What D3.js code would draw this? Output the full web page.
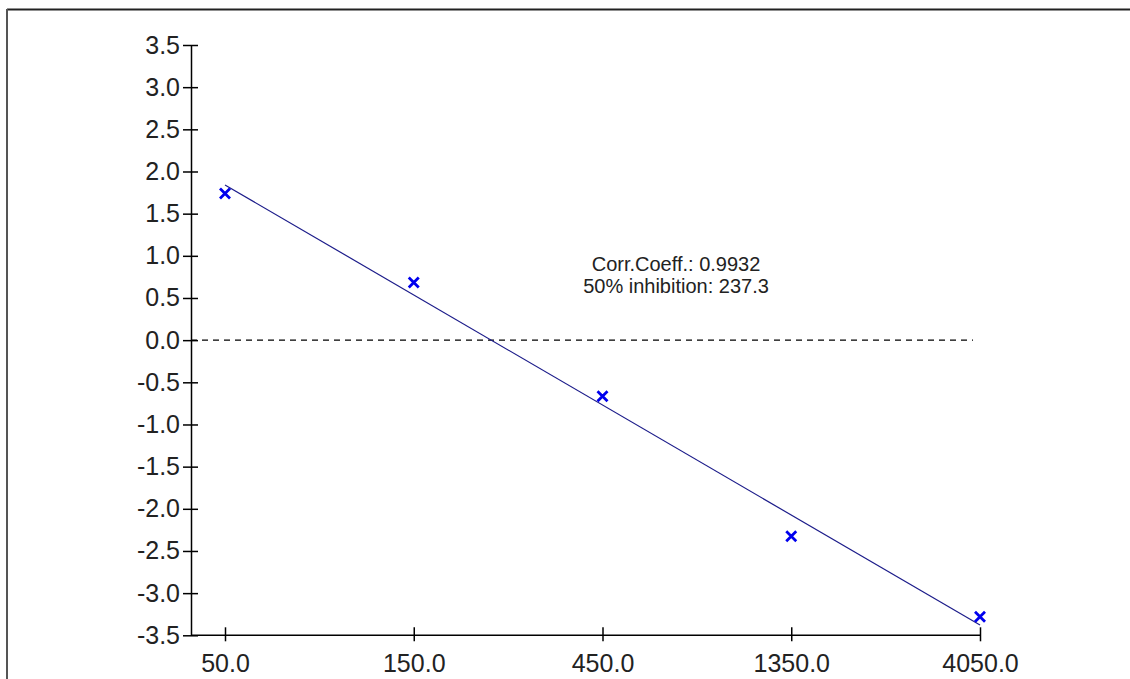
<!DOCTYPE html>
<html>
<head>
<meta charset="utf-8">
<script src="https://cdn.jsdelivr.net/npm/d3@7"></script>
<style>
  html, body { margin: 0; padding: 0; background: #fff; }
  svg { display: block; }
  text { font-family: "Liberation Sans", Arial, sans-serif; }
</style>
</head>
<body>
<svg id="chart" width="1130" height="679"></svg>
<script>
// concentrations (x, log scale) and measured response (y)
const concentrations = [50, 150, 450, 1350, 4050];
const responses = [1.74, 0.684, -0.664, -2.325, -3.28];
const yTicks = [-3.5, -3.0, -2.5, -2.0, -1.5, -1.0, -0.5, 0, 0.5, 1.0, 1.5, 2.0, 2.5, 3.0, 3.5];
const notes = ["Corr.Coeff.: 0.9932", "50% inhibition: 237.3"];

const svg = d3.select("#chart");

// frame round the plot window
svg.append("line").attr("x1", 7).attr("x2", 1130).attr("y1", 9.5).attr("y2", 9.5)
  .attr("stroke", "#222").attr("stroke-width", 2);
svg.append("line").attr("x1", 7).attr("x2", 7).attr("y1", 9).attr("y2", 679)
  .attr("stroke", "#555").attr("stroke-width", 2);

const x = d3.scaleLog().domain([50, 4050]).range([225, 980]);
const y = d3.scaleLinear().domain([-3.5, 3.5]).range([635.3, 45]);
const axisX0 = 191;

// y axis
const gy = svg.append("g")
  .attr("transform", `translate(${axisX0},0)`)
  .call(d3.axisLeft(y).tickValues(yTicks).tickSize(8).tickSizeOuter(0).tickPadding(3)
    .tickFormat((d) => d.toFixed(1)));
gy.select(".domain").attr("stroke", "#000").attr("stroke-width", 1.5);
gy.selectAll(".tick line").attr("x1", 7).attr("stroke", "#000").attr("stroke-width", 1.5);
gy.selectAll(".tick text").attr("font-size", 25).attr("fill", "#222")
  .attr("font-family", "Liberation Sans, Arial, sans-serif");

// x axis
const gx = svg.append("g")
  .attr("transform", `translate(0,${y(-3.5)})`)
  .call(d3.axisBottom(x).tickValues(concentrations).tickSize(6).tickPadding(13)
    .tickFormat((d) => d.toFixed(1)));
gx.select(".domain").remove();
gx.append("line").attr("x1", axisX0).attr("x2", x(4050)).attr("y1", 0).attr("y2", 0)
  .attr("stroke", "#000").attr("stroke-width", 1.5);
gx.selectAll(".tick line").attr("y1", -8).attr("stroke", "#000").attr("stroke-width", 1.5);
gx.selectAll(".tick text").attr("font-size", 25).attr("fill", "#222")
  .attr("font-family", "Liberation Sans, Arial, sans-serif");

// zero line
svg.append("line")
  .attr("x1", axisX0).attr("x2", x(4050) - 7)
  .attr("y1", y(0)).attr("y2", y(0))
  .attr("stroke", "#000").attr("stroke-width", 1.3)
  .attr("stroke-dasharray", "6,5");

// least squares fit in log space
const lx = concentrations.map((c) => Math.log(c));
const mx = d3.mean(lx), my = d3.mean(responses);
const slope = d3.sum(lx, (v, i) => (v - mx) * (responses[i] - my)) / d3.sum(lx, (v) => (v - mx) ** 2);
const icpt = my - slope * mx;
const fit = (c) => icpt + slope * Math.log(c);
const ends = [concentrations[0], concentrations[concentrations.length - 1]];

svg.append("line")
  .attr("x1", x(ends[0])).attr("y1", y(fit(ends[0])))
  .attr("x2", x(ends[1])).attr("y2", y(fit(ends[1])))
  .attr("stroke", "#1c1c8a").attr("stroke-width", 1.2);

// measured points as crosses
const s = 5;
const pts = svg.append("g").selectAll("path")
  .data(concentrations.map((c, i) => ({ c, v: responses[i] })))
  .enter()
  .append("path")
  .attr("d", (d) => {
    const px = x(d.c), py = y(d.v);
    return `M${px - s},${py - s}L${px + s},${py + s}M${px - s},${py + s}L${px + s},${py - s}`;
  })
  .attr("stroke", "#0000ee")
  .attr("stroke-width", 2.8)
  .attr("fill", "none");

// annotation
svg.append("g").selectAll("text")
  .data(notes)
  .enter()
  .append("text")
  .attr("x", 676)
  .attr("y", (d, i) => 270.5 + i * 22)
  .attr("text-anchor", "middle")
  .attr("font-size", 20)
  .attr("fill", "#222")
  .text((d) => d);
</script>
</body>
</html>
